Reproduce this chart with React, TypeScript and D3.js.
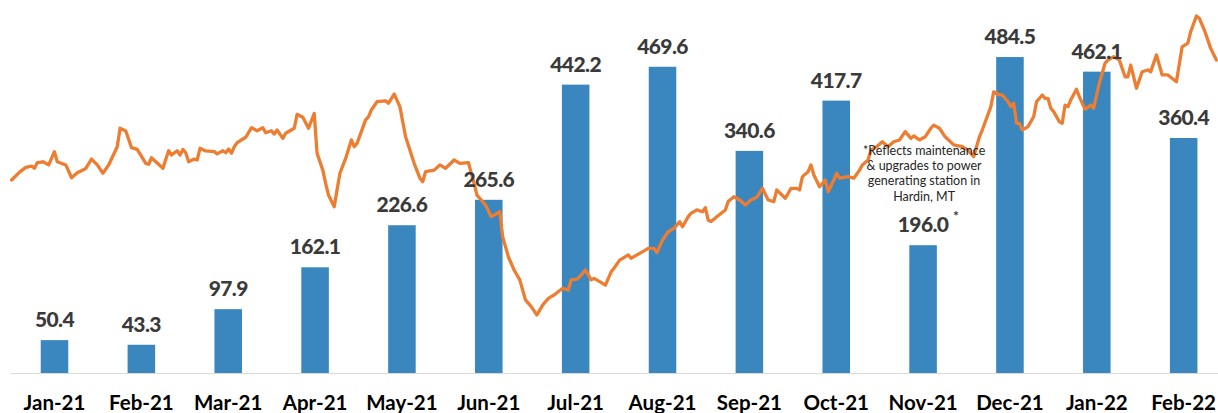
import React from 'react';
import * as d3 from 'd3';

const months = ['Jan-21','Feb-21','Mar-21','Apr-21','May-21','Jun-21','Jul-21','Aug-21','Sep-21','Oct-21','Nov-21','Dec-21','Jan-22','Feb-22'];
const minedValues = [50.4, 43.3, 97.9, 162.1, 226.6, 265.6, 442.2, 469.6, 340.6, 417.7, 196.0, 484.5, 462.1, 360.4];
const starredMonth = 'Nov-21';
const noteLines = ['*Reflects maintenance', '& upgrades to power', 'generating station in', 'Hardin, MT'];

// days since 2021-01-01
const hashDays = [
  0,3,5,7,8,9,11,13,15,16,19,21,23,25,26,28,30,32,34,37,38,40,42,44,47,48,49,53,55,56,58,59,60,61,62,64,65,66,68,71,72,74,75,76,77,78,79,82,84,86,88,89,91,92,93,95,96,99,100,102,104,
  106,107,109,110,111,113,114,115,117,119,120,121,124,125,126,128,131,132,134,136,138,141,143,144,145,148,150,152,155,157,160,162,163,166,168,169,171,172,174,176,178,180,182,184,186,188,190,193,195,196,198,199,201,203,204,206,
  208,210,211,213,216,217,220,223,225,226,228,230,232,234,235,237,238,240,242,243,244,245,247,250,251,253,255,257,259,261,263,265,267,268,271,273,275,276,277,279,280,281,283,285,286,288,289,290,293,295,297,298,300,301,303,305,307,309,311,313,315,
  316,318,320,322,323,325,327,330,333,335,337,339,340,343,344,346,347,349,350,351,352,353,354,356,358,359,361,362,363,364,365,367,368,369,370,371,373,374,376,378,379,381,383,384,386,388,390,391,392,394,396,398,399,401,403,405,408,410,412,413,415,416,418,420,422
];
// network hash rate (EH/s)
const hashRate = [
  145.0,148.7,150.6,151.2,150.2,152.7,153.1,151.7,157.6,153.1,151.7,146.0,148.2,149.4,150.2,154.3,151.7,148.0,151.7,159.8,168.0,166.8,159.4,158.6,152.4,152.0,154.9,150.2,158.0,156.1,158.0,156.1,158.6,157.1,153.1,154.3,153.9,159.1,157.9,157.6,156.6,158.0,157.1,158.8,156.9,159.8,161.6,164.0,168.2,166.9,168.2,166.0,166.9,165.4,167.2,163.5,165.8,168.0,174.2,172.9,168.0,
  174.6,156.9,149.4,143.5,138.3,133.1,140.6,148.0,154.6,162.8,159.8,161.3,171.7,173.1,176.1,179.8,180.2,179.1,183.2,177.6,164.2,152.4,145.8,144.2,148.7,149.4,151.7,150.2,153.9,152.4,152.7,143.5,138.3,133.9,128.7,129.4,130.9,119.8,110.9,105.0,100.6,91.7,88.7,85.0,89.4,92.4,93.9,96.9,96.1,100.6,100.9,102.0,105.0,100.6,101.3,99.8,
  98.3,104.2,105.8,109.4,111.7,110.2,112.4,114.6,114.6,112.7,118.3,122.0,123.5,126.5,124.2,128.7,130.2,131.7,130.9,132.7,127.2,126.5,128.7,131.7,135.4,137.6,136.1,133.9,136.1,137.3,141.3,136.1,135.4,140.6,136.9,141.3,141.3,140.6,146.5,148.7,151.7,147.2,142.0,145.0,139.8,145.0,148.0,145.8,146.5,145.8,149.4,151.7,153.9,158.3,159.8,162.0,159.8,162.0,162.8,166.5,163.5,
  164.6,162.8,164.2,168.0,169.4,168.0,164.2,160.6,159.8,158.3,155.4,164.2,167.2,177.6,184.2,182.8,182.8,179.8,177.6,179.1,170.2,170.2,167.2,168.7,173.1,179.8,182.8,181.3,181.3,176.9,175.4,170.9,170.2,178.3,177.6,180.6,185.3,182.0,176.4,178.3,176.9,188.0,196.9,198.3,199.8,198.3,190.9,190.9,196.1,185.8,193.1,193.9,193.1,200.6,191.7,191.7,188.7,204.2,205.8,210.9,217.9,216.9,210.9,203.5,198.3
];

const W = 1218;
const H = 413;

export default function App() {
  const x = d3.scaleBand<string>().domain(months).range([11.07, 1227.1]).paddingInner(0.683).paddingOuter(0.3415);
  const y = d3.scaleLinear().domain([0, 572]).range([373, 0]);
  const xd = d3.scaleLinear().domain([0, 424]).range([11.6, 1222.1]);
  const yh = d3.scaleLinear().domain([60, 240]).range([371.25, -33.75]);

  const pts: [number, number][] = hashDays.map((d, i) => [d, hashRate[i]]);
  const line = d3.line<[number, number]>().x(d => xd(d[0])).y(d => yh(d[1]));

  const bw = x.bandwidth();
  const nx = x(starredMonth)! + bw / 2;
  const ny = y(minedValues[months.indexOf(starredMonth)]);

  return (
    <div style={{ position: 'absolute', left: 0, top: 0 }}>
      <svg width={W} height={H} style={{ display: 'block', background: '#fff' }}>
        <line x1={11} x2={W} y1={y(0) + 0.5} y2={y(0) + 0.5} stroke="#d9d9d9" strokeWidth={1} />
        {months.map((m, i) => (
          <rect key={m} x={x(m)} y={y(minedValues[i])} width={bw} height={y(0) - y(minedValues[i])} fill="#3A86BF" />
        ))}
        <path d={line(pts) || ''} fill="none" stroke="#ED7D31" strokeWidth={3.3} strokeLinejoin="round" strokeLinecap="round" />
        {months.map((m, i) => (
          <text key={'v' + m} x={x(m)! + bw / 2} y={y(minedValues[i]) - 13} textAnchor="middle"
            fontFamily="Lato" fontWeight={900} fontSize={21} letterSpacing={-0.6} fill="#3a3a3a">
            {minedValues[i].toFixed(1)}
          </text>
        ))}
        <text x={nx + 33} y={ny - 24} textAnchor="middle" fontFamily="Lato" fontWeight={700} fontSize={14} fill="#3a3a3a">*</text>
        {noteLines.map((t, i) => (
          <text key={t} x={nx + 1} y={154.5 + i * 15.4} textAnchor="middle" fontFamily="Lato" fontSize={12.5} fill="#262626">{t}</text>
        ))}
        {months.map(m => (
          <text key={'l' + m} x={x(m)! + bw / 2} y={410} textAnchor="middle"
            fontFamily="Lato" fontWeight={700} fontSize={20.5} fill="#000">
            {m}
          </text>
        ))}
      </svg>
    </div>
  );
}
